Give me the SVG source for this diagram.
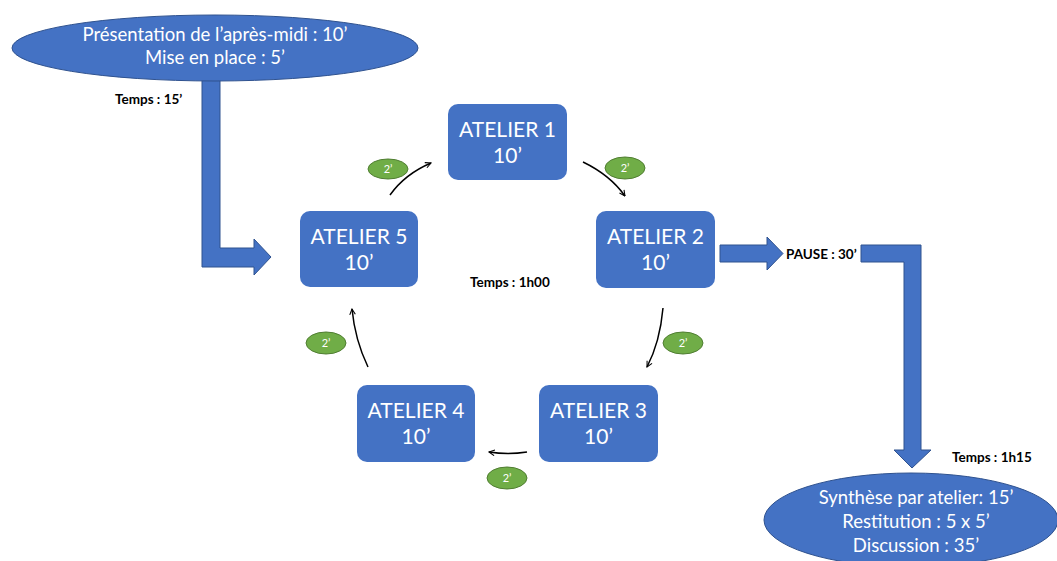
<svg xmlns="http://www.w3.org/2000/svg" width="1057" height="561" viewBox="0 0 1057 561">
<style>
.box{fill:#4472C4;}
.big{fill:#4472C4;stroke:#2F528F;stroke-width:1;}
.barrow{fill:#4472C4;stroke:#2F528F;stroke-width:1;}
.btxt{font-family:Lato,"Open Sans",sans-serif;font-size:21px;fill:#fff;text-anchor:middle;}
.etxt{font-family:Lato,"Open Sans",sans-serif;font-size:18.5px;fill:#fff;text-anchor:middle;}
.lbl{font-family:Lato,"Open Sans",sans-serif;font-size:13.5px;font-weight:bold;fill:#000;}
.pill{fill:#70AD47;stroke:#507E32;stroke-width:1;}
.ptxt{font-family:Lato,"Open Sans",sans-serif;font-size:11px;fill:#fff;text-anchor:middle;}
.conn{fill:none;stroke:#000;stroke-width:1.5;marker-end:url(#open);}
</style>
<defs>
<marker id="open" viewBox="0 0 10 10" refX="9" refY="5" markerWidth="7" markerHeight="7" markerUnits="userSpaceOnUse" orient="auto">
<path d="M1,1 L9,5 L1,9" fill="none" stroke="#000" stroke-width="1.5"/>
</marker>
</defs>
<g id="connectors">
<path class="barrow" d="M202,75 L220,75 L220,248 L254,248 L254,239 L271,257 L254,275 L254,267 L202,267 Z"/>
<path class="barrow" d="M720,245 L767,245 L767,237 L783,253.5 L767,270 L767,262 L720,262 Z"/>
<path class="barrow" d="M861,245 L921,245 L921,450 L931,450 L912,468 L894,450 L904,450 L904,262 L861,262 Z"/>
<path class="conn" d="M390,195 Q405,174 431,163"/>
<path class="conn" d="M583,162 Q610,175 625,196"/>
<path class="conn" d="M663,308 Q660,342 647,367"/>
<path class="conn" d="M527,452 Q508,455 489,452"/>
<path class="conn" d="M368,367 Q355,340 352,309"/>
</g>
<g id="intro">
<ellipse class="big" cx="215" cy="48" rx="203" ry="33"/>
<text class="etxt" x="215" y="41">Présentation de l’après-midi : 10’</text>
<text class="etxt" x="215" y="64">Mise en place : 5’</text>
</g>
<g id="atelier1">
<rect class="box" x="448" y="104" width="119" height="76" rx="10"/>
<text class="btxt" x="507.5" y="137">ATELIER 1</text>
<text class="btxt" x="507.5" y="163">10’</text>
</g>
<g id="atelier2">
<rect class="box" x="596" y="211" width="119" height="77" rx="10"/>
<text class="btxt" x="655.5" y="244">ATELIER 2</text>
<text class="btxt" x="655.5" y="270">10’</text>
</g>
<g id="atelier3">
<rect class="box" x="539" y="385" width="119" height="77" rx="10"/>
<text class="btxt" x="598.5" y="418">ATELIER 3</text>
<text class="btxt" x="598.5" y="444">10’</text>
</g>
<g id="atelier4">
<rect class="box" x="357" y="385" width="118" height="77" rx="10"/>
<text class="btxt" x="416" y="418">ATELIER 4</text>
<text class="btxt" x="416" y="444">10’</text>
</g>
<g id="atelier5">
<rect class="box" x="300" y="211" width="118" height="76" rx="10"/>
<text class="btxt" x="359" y="244">ATELIER 5</text>
<text class="btxt" x="359" y="270">10’</text>
</g>
<g id="synthese">
<ellipse class="big" cx="911" cy="520" rx="147" ry="47"/>
<text class="etxt" x="916" y="504">Synthèse par atelier: 15’</text>
<text class="etxt" x="916" y="528">Restitution : 5 x 5’</text>
<text class="etxt" x="916" y="552">Discussion : 35’</text>
</g>
<g id="pills">
<ellipse class="pill" cx="388" cy="169" rx="20" ry="10"/>
<text class="ptxt" x="388" y="173">2’</text>
<ellipse class="pill" cx="625" cy="168" rx="20" ry="11"/>
<text class="ptxt" x="625" y="172">2’</text>
<ellipse class="pill" cx="683" cy="343" rx="20" ry="11"/>
<text class="ptxt" x="683" y="347">2’</text>
<ellipse class="pill" cx="507" cy="478" rx="20" ry="11"/>
<text class="ptxt" x="507" y="482">2’</text>
<ellipse class="pill" cx="326" cy="343" rx="20" ry="11"/>
<text class="ptxt" x="326" y="347">2’</text>
</g>
<g id="labels">
<text class="lbl" x="115" y="104">Temps : 15’</text>
<text class="lbl" x="470" y="287">Temps : 1h00</text>
<text class="lbl" x="786" y="259">PAUSE : 30’</text>
<text class="lbl" x="952" y="462">Temps : 1h15</text>
</g>
</svg>
